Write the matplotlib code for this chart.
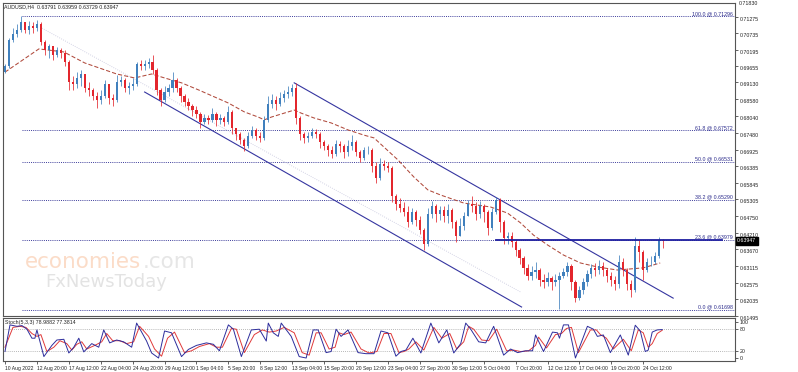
import numpy as np
import matplotlib
matplotlib.use('Agg')
import matplotlib.pyplot as plt

# ---------------------------------------------------------------- data
# one candle = 2 H4 bars (8h); bar index 0 = 10 Aug 2022 00:00
first_open = 0.6946
close = [0.6966, 0.7051, 0.7071, 0.7084, 0.7110, 0.7084, 0.7097, 0.7090, 0.7103, 0.7045,
         0.7018, 0.7032, 0.7002, 0.7018, 0.7009, 0.6979, 0.6914, 0.6907, 0.6927, 0.6940,
         0.6894, 0.6888, 0.6868, 0.6855, 0.6868, 0.6907, 0.6861, 0.6855, 0.6914, 0.6920,
         0.6894, 0.6901, 0.6907, 0.6973, 0.6966, 0.6973, 0.6979, 0.6953, 0.6888, 0.6855,
         0.6881, 0.6894, 0.6920, 0.6894, 0.6868, 0.6848, 0.6835, 0.6822, 0.6809, 0.6783,
         0.6796, 0.6790, 0.6809, 0.6790, 0.6796, 0.6783, 0.6816, 0.6763, 0.6744, 0.6724,
         0.6705, 0.6737, 0.6757, 0.6737, 0.6731, 0.6790, 0.6842, 0.6855, 0.6842, 0.6861,
         0.6875, 0.6881, 0.6894, 0.6796, 0.6744, 0.6731, 0.6737, 0.6750, 0.6744, 0.6718,
         0.6705, 0.6691, 0.6678, 0.6711, 0.6705, 0.6685, 0.6705, 0.6718, 0.6685, 0.6665,
         0.6691, 0.6691, 0.6639, 0.6600, 0.6646, 0.6639, 0.6633, 0.6541, 0.6515, 0.6502,
         0.6489, 0.6456, 0.6489, 0.6463, 0.6430, 0.6384, 0.6482, 0.6508, 0.6482, 0.6495,
         0.6476, 0.6495, 0.6456, 0.6410, 0.6443, 0.6476, 0.6515, 0.6508, 0.6482, 0.6508,
         0.6489, 0.6436, 0.6489, 0.6528, 0.6456, 0.6404, 0.6410, 0.6391, 0.6364, 0.6338,
         0.6306, 0.6279, 0.6293, 0.6299, 0.6266, 0.6260, 0.6273, 0.6260, 0.6266, 0.6279,
         0.6293, 0.6312, 0.6260, 0.6207, 0.6234, 0.6260, 0.6286, 0.6306, 0.6299, 0.6312,
         0.6299, 0.6279, 0.6266, 0.6253, 0.6325, 0.6299, 0.6253, 0.6234, 0.6378, 0.6358,
         0.6299, 0.6325, 0.6325, 0.6345, 0.6397, 0.6395]
high = [0.6973, 0.7058, 0.7090, 0.7103, 0.7130, 0.7110, 0.7113, 0.7110, 0.7117, 0.7110,
        0.7051, 0.7038, 0.7032, 0.7028, 0.7025, 0.7018, 0.6986, 0.6933, 0.6946, 0.6953,
        0.6933, 0.6914, 0.6894, 0.6881, 0.6888, 0.6920, 0.6907, 0.6875, 0.6937, 0.6933,
        0.6927, 0.6914, 0.6927, 0.6979, 0.6986, 0.6986, 0.6992, 0.7002, 0.6960, 0.6894,
        0.6901, 0.6907, 0.6946, 0.6927, 0.6901, 0.6875, 0.6861, 0.6842, 0.6835, 0.6816,
        0.6809, 0.6806, 0.6829, 0.6816, 0.6809, 0.6803, 0.6835, 0.6822, 0.6763, 0.6750,
        0.6731, 0.6750, 0.6770, 0.6763, 0.6750, 0.6803, 0.6868, 0.6875, 0.6868, 0.6881,
        0.6888, 0.6901, 0.6907, 0.6911, 0.6803, 0.6750, 0.6750, 0.6763, 0.6760, 0.6750,
        0.6724, 0.6711, 0.6705, 0.6724, 0.6721, 0.6711, 0.6724, 0.6740, 0.6724, 0.6691,
        0.6701, 0.6705, 0.6698, 0.6652, 0.6665, 0.6659, 0.6652, 0.6639, 0.6548, 0.6534,
        0.6521, 0.6508, 0.6502, 0.6495, 0.6476, 0.6436, 0.6502, 0.6525, 0.6515, 0.6508,
        0.6508, 0.6515, 0.6502, 0.6463, 0.6469, 0.6489, 0.6528, 0.6541, 0.6521, 0.6525,
        0.6515, 0.6495, 0.6502, 0.6538, 0.6534, 0.6463, 0.6423, 0.6423, 0.6397, 0.6371,
        0.6345, 0.6319, 0.6312, 0.6325, 0.6306, 0.6286, 0.6293, 0.6279, 0.6286, 0.6293,
        0.6306, 0.6325, 0.6319, 0.6266, 0.6247, 0.6273, 0.6299, 0.6319, 0.6322, 0.6332,
        0.6325, 0.6306, 0.6293, 0.6279, 0.6348, 0.6338, 0.6306, 0.6266, 0.6407, 0.6397,
        0.6364, 0.6338, 0.6345, 0.6358, 0.6407, 0.6400]
low = [0.6943, 0.6960, 0.7045, 0.7061, 0.7077, 0.7074, 0.7071, 0.7074, 0.7081, 0.7035,
       0.7002, 0.6992, 0.6986, 0.6996, 0.6992, 0.6966, 0.6888, 0.6888, 0.6894, 0.6901,
       0.6881, 0.6868, 0.6855, 0.6829, 0.6842, 0.6861, 0.6842, 0.6835, 0.6848, 0.6901,
       0.6881, 0.6875, 0.6888, 0.6901, 0.6953, 0.6953, 0.6960, 0.6940, 0.6871, 0.6835,
       0.6848, 0.6868, 0.6881, 0.6881, 0.6848, 0.6835, 0.6822, 0.6803, 0.6796, 0.6763,
       0.6776, 0.6776, 0.6783, 0.6770, 0.6776, 0.6770, 0.6776, 0.6744, 0.6724, 0.6711,
       0.6688, 0.6698, 0.6731, 0.6724, 0.6718, 0.6724, 0.6783, 0.6829, 0.6822, 0.6835,
       0.6848, 0.6861, 0.6868, 0.6776, 0.6724, 0.6714, 0.6718, 0.6731, 0.6731, 0.6698,
       0.6691, 0.6672, 0.6665, 0.6672, 0.6685, 0.6665, 0.6672, 0.6691, 0.6672, 0.6652,
       0.6659, 0.6678, 0.6619, 0.6584, 0.6593, 0.6626, 0.6619, 0.6521, 0.6495, 0.6489,
       0.6476, 0.6440, 0.6449, 0.6443, 0.6417, 0.6364, 0.6378, 0.6469, 0.6456, 0.6463,
       0.6456, 0.6453, 0.6436, 0.6391, 0.6410, 0.6430, 0.6476, 0.6489, 0.6463, 0.6469,
       0.6456, 0.6413, 0.6430, 0.6482, 0.6423, 0.6384, 0.6384, 0.6374, 0.6345, 0.6319,
       0.6286, 0.6266, 0.6266, 0.6273, 0.6247, 0.6240, 0.6247, 0.6234, 0.6247, 0.6170,
       0.6273, 0.6279, 0.6234, 0.6194, 0.6201, 0.6221, 0.6247, 0.6273, 0.6279, 0.6286,
       0.6279, 0.6260, 0.6247, 0.6234, 0.6240, 0.6279, 0.6234, 0.6211, 0.6227, 0.6325,
       0.6266, 0.6293, 0.6312, 0.6319, 0.6338, 0.6371]

# dashed moving average (bar index, price)
ma_bar = [0, 17, 29.5, 40, 56, 65, 73.5, 80, 88.5, 97,
          105, 112, 120, 127, 130, 133.5, 145, 148.5, 155, 163.5,
          172, 180, 185, 190, 197, 205, 212, 218.5, 230, 243.5,
          252, 258.5, 265, 272, 280, 288.5, 297, 307, 320, 328.5]
ma_val = [0.6946, 0.7022, 0.7012, 0.6976, 0.6940, 0.6927, 0.6940, 0.6927, 0.6911, 0.6888,
          0.6865, 0.6845, 0.6816, 0.6799, 0.6790, 0.6799, 0.6822, 0.6812, 0.6796, 0.6780,
          0.6757, 0.6740, 0.6731, 0.6701, 0.6659, 0.6603, 0.6561, 0.6544, 0.6518, 0.6505,
          0.6485, 0.6453, 0.6413, 0.6381, 0.6348, 0.6322, 0.6309, 0.6299, 0.6306, 0.6322]

# drawn objects
chan_up_bar, chan_up_val = [145, 335], [0.6911, 0.6207]
chan_lo_bar, chan_lo_val = [70, 259], [0.6881, 0.6178]
trend_bar, trend_val = [18.5, 258.5], [0.7090, 0.6227]
resist_bar, resist_val = [246, 359.5], 0.63979
fib_names = ["100.0", "61.8", "50.0", "38.2", "23.6", "0.0"]
fib_levels = [0.71296, 0.67572, 0.66531, 0.65290, 0.63979, 0.61698]
fib_start = 8.5

price_ticks = [0.71275, 0.70735, 0.70195, 0.69655, 0.69130, 0.68580, 0.68040,
               0.67480, 0.66925, 0.66385, 0.65845, 0.65305, 0.64750, 0.64210,
               0.63670, 0.63115, 0.62575, 0.62035, 0.61495]
top_price_label = "0.71830"
last_price = 0.63947

# stochastic (5,3,3)
stk_bar = [0, 2.5, 6, 8.5, 11, 13.5, 15, 16, 19.5, 23.5,
           26, 29.5, 32, 34.5, 37, 39.5, 43.5, 47, 49.5, 52.5,
           56, 59.5, 63.5, 66, 71, 73.5, 77, 80, 83.5, 88.5,
           92, 96, 101, 104.5, 107.5, 112, 114.5, 118.5, 123.5, 127.5,
           131, 132, 134.5, 137, 138.5, 143.5, 147.5, 151, 154.5, 157,
           161, 163.5, 166, 168.5, 172, 177, 181, 185, 188.5, 192,
           196, 198.5, 201, 204.5, 208.5, 213.5, 217.5, 221.5, 225, 228.5,
           231, 233.5, 237.5, 241, 245, 250, 253.5, 257, 261, 264.5,
           266, 270, 274.5, 277, 278, 280, 282.5, 286, 292, 295,
           297, 300, 303.5, 308.5, 312.5, 316, 318.5, 321, 322.5, 324.5,
           327, 329.5]
stk_val = [18, 92, 88, 90, 80, 55, 55, 78, 4, 35,
           50, 52, 14, 30, 55, 17, 40, 30, 78, 42,
           50, 45, 30, 97, 47, 14, 0, 75, 70, 4,
           24, 35, 42, 38, 20, 92, 80, 4, 78, 80,
           47, 97, 70, 60, 97, 60, 4, 0, 78, 78,
           15, 18, 80, 60, 78, 15, 12, 12, 75, 70,
           5, 18, 22, 55, 14, 97, 42, 78, 14, 40,
           97, 80, 45, 42, 88, 8, 25, 15, 20, 20,
           64, 18, 72, 70, 55, 92, 92, 0, 88, 80,
           60, 64, 15, 64, 8, 91, 75, 18, 22, 72,
           78, 79]
std_bar = [0, 4, 7.5, 10.5, 13.5, 16, 18, 21, 24.5, 27.5,
           31, 33.5, 36, 38.5, 41, 45, 48.5, 51, 54, 57.5,
           61, 64.5, 67.5, 72, 75, 78.5, 81.5, 85, 90, 93.5,
           97.5, 102.5, 106, 109, 113.5, 116, 120, 125, 129, 132.5,
           136, 140, 145, 149, 152.5, 156, 158.5, 162.5, 165.5, 167.5,
           170, 173.5, 178.5, 182.5, 186.5, 190, 193.5, 197.5, 200, 202.5,
           206, 210, 215, 219, 223, 226.5, 230, 232.5, 235, 239,
           242.5, 246.5, 251.5, 255, 258.5, 262.5, 266, 267.5, 271.5, 276,
           279, 281.5, 284, 287.5, 293.5, 296.5, 298.5, 301.5, 305, 310,
           314, 317.5, 320, 322.5, 324.5, 327, 329.5]
std_val = [30, 85, 88, 85, 68, 60, 65, 18, 30, 48,
           40, 22, 38, 45, 25, 35, 45, 68, 48, 48,
           40, 45, 88, 60, 25, 5, 55, 72, 15, 20,
           32, 40, 30, 30, 82, 80, 15, 65, 78, 72,
           75, 85, 70, 15, 8, 70, 70, 25, 30, 70,
           65, 72, 25, 14, 18, 68, 68, 15, 18, 25,
           45, 22, 85, 55, 68, 25, 45, 88, 80, 50,
           48, 80, 20, 22, 18, 20, 35, 58, 28, 65,
           68, 82, 85, 15, 78, 78, 65, 55, 25, 52,
           20, 78, 70, 30, 40, 68, 77]

time_labels = ["10 Aug 2022", "12 Aug 20:00", "17 Aug 12:00", "22 Aug 04:00", "24 Aug 20:00",
               "29 Aug 12:00", "1 Sep 04:00", "5 Sep 20:00", "8 Sep 12:00", "13 Sep 04:00",
               "15 Sep 20:00", "20 Sep 12:00", "23 Sep 04:00", "27 Sep 20:00", "30 Sep 12:00",
               "5 Oct 04:00", "7 Oct 20:00", "12 Oct 12:00", "17 Oct 04:00", "19 Oct 20:00",
               "24 Oct 12:00"]
time_ticks = [16 * i for i in range(len(time_labels))]

# ---------------------------------------------------------------- layout
W, H = 798, 372
FONT = 'Liberation Sans'
SMALL = 3.8


def box(l, t, r, b):
    return [l / W, 1 - b / H, (r - l) / W, (b - t) / H]


fig = plt.figure(figsize=(W / 100, H / 100), dpi=100)
fig.patch.set_facecolor('white')
ax = fig.add_axes(box(3, 3, 735, 316))
axs = fig.add_axes(box(3, 318, 735, 361), sharex=ax)

XMAX = 366
ax.set_xlim(-1, XMAX)
ax.set_ylim(0.61486, 0.71721)
axs.set_ylim(-8.3, 111.1)

for a in (ax, axs):
    for s in a.spines.values():
        s.set_color('#555555')
        s.set_linewidth(0.8)

# candles
c = np.array(close)
o = np.r_[first_open, c[:-1]]
x = np.arange(len(c)) * 2
cols = np.where(c >= o, '#4080bd', '#e3262d')
ax.vlines(x, low, high, colors=cols, lw=0.55, zorder=3)
ax.bar(x, np.abs(c - o), bottom=np.minimum(o, c), width=1.1, color=cols,
       linewidth=0, zorder=3)

# moving average
ax.plot(ma_bar, ma_val, color='#b04a3c', lw=0.75, ls=(0, (4, 2)), zorder=2)

# fibonacci levels
ax.hlines(fib_levels, fib_start, XMAX, colors='#3b3b9a', lw=0.7,
          linestyles=(0, (1, 1.2)), zorder=1)
ytr = ax.get_yaxis_transform()
for n, v in zip(fib_names, fib_levels):
    ax.text(0.997, v, f"{n} @ {v:.5f}", transform=ytr, ha='right', va='bottom',
            fontsize=SMALL, color='#2b2b8c', family=FONT)

# channel and lines
ax.plot(chan_up_bar, chan_up_val, color='#3535a0', lw=0.8, zorder=2)
ax.plot(chan_lo_bar, chan_lo_val, color='#3535a0', lw=0.8, zorder=2)
ax.plot(trend_bar, trend_val, color='#c4c4dc', lw=0.6, ls=':', zorder=1)
ax.plot(resist_bar, [resist_val] * 2, color='#1f1fa0', lw=1.3, zorder=4)

# price axis
ax.yaxis.tick_right()
ax.set_yticks(price_ticks)
ax.set_yticklabels([f"{v:.5f}" for v in price_ticks])
ax.tick_params(axis='y', length=2, width=0.5, pad=1.5, labelsize=SMALL,
               colors='#222222')
for lab in ax.get_yticklabels():
    lab.set_family(FONT)
    lab.set_va('top')
ax.tick_params(axis='x', bottom=False, labelbottom=False)
fig.text(739 / W, 1 - 1 / H, top_price_label, ha='left', va='top',
         fontsize=SMALL, color='#222222', family=FONT)
ax.text(1.003, last_price, f"{last_price:.5f}", transform=ytr, ha='left',
        va='center', fontsize=SMALL, color='white', family=FONT,
        bbox=dict(boxstyle='square,pad=0.25', fc='black', ec='black'))

ax.text(0.002, 0.995, "AUDUSD,H4  0.63791 0.63959 0.63729 0.63947",
        transform=ax.transAxes, ha='left', va='top', fontsize=SMALL,
        color='#222222', family=FONT)

# watermark
fig.text(25 / W, 1 - 268 / H, "economies", fontsize=15.5, color='#fbdcc8',
         va='baseline', ha='left', family='DejaVu Sans')
fig.text(143 / W, 1 - 268 / H, ".com", fontsize=15.5, color='#e6e6e6',
         va='baseline', ha='left', family='DejaVu Sans')
fig.text(45 / W, 1 - 287 / H, "FxNewsToday", fontsize=13, color='#e3e3e3',
         va='baseline', ha='left', family='DejaVu Sans')

# stochastic
axs.axhline(80, color='#a0a0a0', lw=0.6, ls=(0, (1, 1.5)))
axs.axhline(20, color='#a0a0a0', lw=0.6, ls=(0, (1, 1.5)))
axs.plot(std_bar, std_val, color='#e03a3a', lw=0.7)
axs.plot(stk_bar, stk_val, color='#2d2d9c', lw=0.7)
axs.yaxis.tick_right()
axs.set_yticks([0, 20, 80, 100])
axs.set_yticklabels(["0", "20", "80", "100"])
axs.tick_params(axis='y', length=2, width=0.5, pad=1.5, labelsize=SMALL,
                colors='#222222')
axs.set_xticks(time_ticks)
axs.set_xticklabels(time_labels, ha='left')
axs.tick_params(axis='x', length=2, width=0.5, pad=1.5, labelsize=3.6,
                colors='#222222')
for lab in axs.get_xticklabels() + axs.get_yticklabels():
    lab.set_family(FONT)
axs.text(0.003, 0.96, "Stoch(5,3,3) 78.9882 77.3814", transform=axs.transAxes,
         ha='left', va='top', fontsize=SMALL, color='#222222', family=FONT)

fig.savefig('out.png', dpi=100)
